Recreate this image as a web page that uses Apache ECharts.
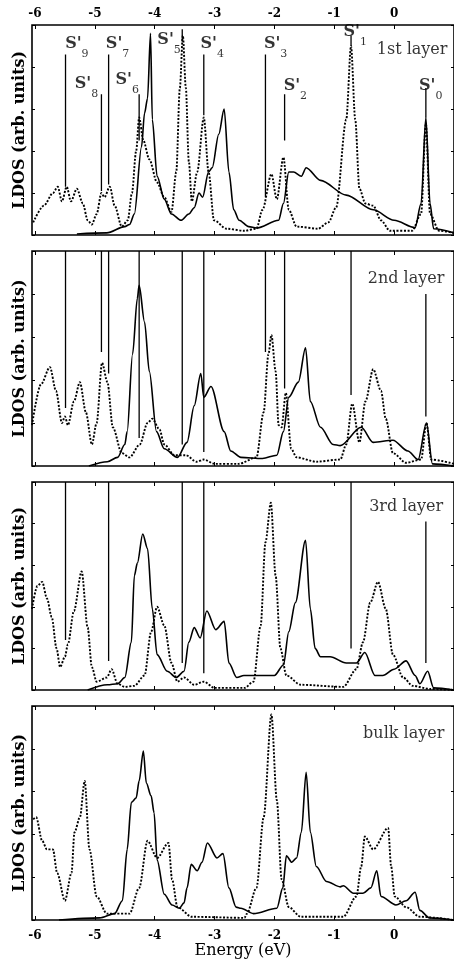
<!DOCTYPE html>
<html>
<head>
<meta charset="utf-8">
<script src="https://cdn.jsdelivr.net/npm/echarts@6/dist/echarts.min.js"></script>
<style>
  html, body { margin: 0; padding: 0; background: #fff; }
  #chart { width: 454px; height: 962px; }
</style>
</head>
<body>
<div id="chart"></div>
<script>
const ENERGY_TICKS = [-6, -5, -4, -3, -2, -1, 0]
const LAYERS = ['1st layer', '2nd layer', '3rd layer', 'bulk layer']

// surface states S'9 ... S'0 (eV)
const STATE_NAMES = ['9', '8', '7', '6', '5', '4', '3', '2', '1', '0']
const STATE_E = [-5.49, -4.89, -4.77, -4.26, -3.54, -3.18, -2.15, -1.83, -0.72, 0.53]
const STATE_LABEL_AT = [[-5.30, 0.89], [-5.14, 0.70], [-4.62, 0.89], [-4.46, 0.72], [-3.76, 0.91],
  [-3.04, 0.89], [-1.98, 0.89], [-1.65, 0.69], [-0.65, 0.95], [0.61, 0.69]]

// marker line extents [from, to] per layer, null = no line
const MARK_L1 = [[0.86, 0.23], [0.67, 0.21], [0.86, 0.24], [0.67, 0.45], [0.98, 0.92],
  [0.86, 0.57], [0.86, 0.18], [0.67, 0.45], [0.95, 0.9], [0.7, 0.56]]
const MARK_L2 = [[1, 0.27], [1, 0.53], [1, 0.43], [1, 0.13], [1, 0.1],
  [1, 0.065], [1, 0.53], [1, 0.36], [1, 0.33], [0.8, 0.23]]
const MARK_L3 = [[1, 0.24], null, [1, 0.14], null, [1, 0.13],
  [1, 0.08], null, null, [1, 0.2], [0.81, 0.13]]
const MARK_L4 = [null, null, null, null, null, null, null, null, null, null]

// LDOS curves [energy, value]; solid and dotted per layer
const L1_SOLID = [[-5.3, 0.005], [-4.8, 0.01], [-4.5, 0.04], [-4.42, 0.05], [-4.34, 0.1], [-4.22, 0.42],
  [-4.17, 0.58], [-4.12, 0.65], [-4.07, 0.96], [-4.04, 0.55], [-3.96, 0.28], [-3.84, 0.17],
  [-3.72, 0.1], [-3.56, 0.07], [-3.43, 0.1], [-3.34, 0.13], [-3.26, 0.2], [-3.2, 0.18],
  [-3.1, 0.3], [-3.04, 0.32], [-2.93, 0.48], [-2.84, 0.6], [-2.76, 0.3], [-2.68, 0.12],
  [-2.59, 0.07], [-2.43, 0.04], [-2.3, 0.033], [-1.93, 0.07], [-1.85, 0.15], [-1.76, 0.3],
  [-1.68, 0.3], [-1.55, 0.28], [-1.47, 0.32], [-1.23, 0.26], [-0.8, 0.19], [-0.35, 0.12],
  [0.0, 0.07], [0.35, 0.035], [0.45, 0.15], [0.53, 0.56], [0.6, 0.15], [0.66, 0.03], [1.0, 0.01]]
const L1_DOTTED = [[-6.03, 0.06], [-5.85, 0.14], [-5.7, 0.2], [-5.62, 0.23], [-5.55, 0.16],
  [-5.47, 0.23], [-5.4, 0.16], [-5.3, 0.22], [-5.2, 0.15], [-5.12, 0.07], [-5.05, 0.05],
  [-4.97, 0.1], [-4.89, 0.2], [-4.84, 0.18], [-4.75, 0.23], [-4.67, 0.14], [-4.55, 0.04],
  [-4.45, 0.07], [-4.38, 0.2], [-4.31, 0.4], [-4.26, 0.56], [-4.19, 0.45], [-4.09, 0.36],
  [-3.96, 0.25], [-3.84, 0.18], [-3.72, 0.11], [-3.64, 0.3], [-3.58, 0.7], [-3.53, 0.95],
  [-3.48, 0.7], [-3.43, 0.35], [-3.38, 0.16], [-3.29, 0.3], [-3.18, 0.56], [-3.1, 0.3],
  [-3.01, 0.07], [-2.8, 0.03], [-2.5, 0.02], [-2.3, 0.03], [-2.2, 0.12], [-2.05, 0.29],
  [-1.96, 0.17], [-1.85, 0.37], [-1.76, 0.12], [-1.63, 0.04], [-1.27, 0.03], [-1.1, 0.06],
  [-0.97, 0.13], [-0.8, 0.55], [-0.72, 0.9], [-0.65, 0.55], [-0.58, 0.22], [-0.48, 0.15],
  [-0.35, 0.14], [-0.22, 0.07], [-0.07, 0.02], [0.3, 0.02], [0.45, 0.1], [0.53, 0.53],
  [0.6, 0.1], [0.75, 0.02], [1.0, 0.01]]

const L2_SOLID = [[-5.1, 0.0], [-4.79, 0.02], [-4.62, 0.04], [-4.5, 0.1], [-4.46, 0.16], [-4.37, 0.52],
  [-4.29, 0.78], [-4.26, 0.84], [-4.17, 0.67], [-4.09, 0.44], [-3.97, 0.16], [-3.84, 0.08],
  [-3.62, 0.04], [-3.46, 0.11], [-3.34, 0.28], [-3.23, 0.43], [-3.18, 0.32], [-3.06, 0.37],
  [-2.84, 0.16], [-2.73, 0.07], [-2.56, 0.04], [-2.2, 0.035], [-1.96, 0.05], [-1.85, 0.16],
  [-1.76, 0.32], [-1.6, 0.39], [-1.48, 0.55], [-1.4, 0.3], [-1.23, 0.18], [-1.02, 0.1],
  [-0.9, 0.095], [-0.55, 0.18], [-0.35, 0.11], [-0.02, 0.12], [0.23, 0.07], [0.4, 0.03],
  [0.54, 0.2], [0.64, 0.01], [1.0, 0.0]]
const L2_DOTTED = [[-6.05, 0.19], [-5.9, 0.38], [-5.75, 0.46], [-5.65, 0.35], [-5.55, 0.2],
  [-5.5, 0.23], [-5.45, 0.19], [-5.35, 0.3], [-5.25, 0.39], [-5.15, 0.25], [-5.05, 0.1],
  [-4.97, 0.2], [-4.88, 0.48], [-4.79, 0.39], [-4.7, 0.18], [-4.55, 0.06], [-4.42, 0.04],
  [-4.25, 0.1], [-4.12, 0.2], [-4.04, 0.22], [-3.92, 0.17], [-3.84, 0.1], [-3.67, 0.05],
  [-3.48, 0.05], [-3.3, 0.02], [-3.18, 0.03], [-3.0, 0.01], [-2.6, 0.01], [-2.3, 0.04],
  [-2.18, 0.25], [-2.1, 0.52], [-2.05, 0.61], [-1.98, 0.44], [-1.93, 0.19], [-1.88, 0.18],
  [-1.81, 0.34], [-1.72, 0.08], [-1.63, 0.04], [-1.3, 0.02], [-0.9, 0.03], [-0.8, 0.1],
  [-0.7, 0.29], [-0.58, 0.11], [-0.48, 0.3], [-0.35, 0.45], [-0.22, 0.35], [-0.14, 0.22],
  [-0.02, 0.06], [0.2, 0.015], [0.45, 0.03], [0.54, 0.2], [0.62, 0.03], [1.0, 0.01]]

const L3_SOLID = [[-5.12, 0.0], [-4.79, 0.025], [-4.62, 0.03], [-4.5, 0.06], [-4.39, 0.23], [-4.34, 0.55],
  [-4.29, 0.61], [-4.2, 0.75], [-4.12, 0.68], [-4.04, 0.39], [-3.96, 0.17], [-3.79, 0.09],
  [-3.64, 0.06], [-3.51, 0.09], [-3.43, 0.23], [-3.34, 0.3], [-3.24, 0.25], [-3.13, 0.38],
  [-2.98, 0.29], [-2.84, 0.33], [-2.76, 0.13], [-2.63, 0.06], [-2.51, 0.07], [-2.0, 0.07],
  [-1.85, 0.12], [-1.76, 0.28], [-1.65, 0.42], [-1.48, 0.72], [-1.4, 0.39], [-1.32, 0.2],
  [-1.23, 0.16], [-1.07, 0.16], [-0.8, 0.13], [-0.63, 0.13], [-0.49, 0.18], [-0.32, 0.07],
  [-0.19, 0.07], [0.0, 0.1], [0.2, 0.14], [0.35, 0.07], [0.43, 0.03], [0.56, 0.09],
  [0.66, 0.01], [1.0, 0.0]]
const L3_DOTTED = [[-6.05, 0.39], [-5.96, 0.5], [-5.88, 0.52], [-5.8, 0.44], [-5.72, 0.35],
  [-5.64, 0.2], [-5.58, 0.11], [-5.5, 0.16], [-5.45, 0.22], [-5.35, 0.38], [-5.22, 0.57],
  [-5.12, 0.3], [-5.05, 0.11], [-4.97, 0.04], [-4.8, 0.06], [-4.72, 0.1], [-4.62, 0.03],
  [-4.5, 0.015], [-4.34, 0.02], [-4.17, 0.07], [-4.06, 0.28], [-3.96, 0.4], [-3.84, 0.31],
  [-3.72, 0.13], [-3.62, 0.04], [-3.51, 0.06], [-3.34, 0.025], [-3.18, 0.04], [-3.0, 0.01],
  [-2.5, 0.01], [-2.35, 0.04], [-2.23, 0.31], [-2.15, 0.71], [-2.06, 0.9], [-1.98, 0.55],
  [-1.9, 0.2], [-1.8, 0.07], [-1.56, 0.025], [-0.85, 0.015], [-0.63, 0.1], [-0.52, 0.23],
  [-0.4, 0.42], [-0.27, 0.52], [-0.14, 0.39], [-0.02, 0.17], [0.15, 0.06], [0.31, 0.02],
  [0.6, 0.005], [1.0, 0.0]]

const L4_SOLID = [[-5.6, 0.0], [-4.92, 0.01], [-4.67, 0.03], [-4.54, 0.09], [-4.46, 0.33], [-4.39, 0.55],
  [-4.31, 0.57], [-4.26, 0.65], [-4.19, 0.79], [-4.14, 0.64], [-4.06, 0.58], [-4.01, 0.5],
  [-3.96, 0.28], [-3.84, 0.12], [-3.71, 0.07], [-3.59, 0.055], [-3.51, 0.08], [-3.46, 0.15],
  [-3.39, 0.26], [-3.29, 0.23], [-3.21, 0.27], [-3.12, 0.36], [-2.96, 0.29], [-2.86, 0.31],
  [-2.76, 0.15], [-2.64, 0.06], [-2.56, 0.055], [-2.35, 0.03], [-1.96, 0.055], [-1.86, 0.15],
  [-1.8, 0.3], [-1.71, 0.27], [-1.63, 0.29], [-1.55, 0.41], [-1.47, 0.69], [-1.4, 0.41],
  [-1.3, 0.25], [-1.13, 0.18], [-0.9, 0.155], [-0.85, 0.16], [-0.68, 0.125], [-0.52, 0.125],
  [-0.39, 0.15], [-0.29, 0.23], [-0.22, 0.11], [0.03, 0.07], [0.2, 0.09], [0.35, 0.13],
  [0.43, 0.045], [0.59, 0.01], [1.0, 0.0]]
const L4_DOTTED = [[-6.03, 0.47], [-5.98, 0.48], [-5.88, 0.37], [-5.8, 0.33], [-5.7, 0.33],
  [-5.63, 0.22], [-5.5, 0.09], [-5.39, 0.22], [-5.34, 0.41], [-5.25, 0.48], [-5.17, 0.65],
  [-5.09, 0.33], [-4.97, 0.11], [-4.8, 0.03], [-4.42, 0.03], [-4.26, 0.15], [-4.12, 0.37],
  [-3.96, 0.29], [-3.77, 0.36], [-3.71, 0.19], [-3.62, 0.06], [-3.38, 0.015], [-2.5, 0.01],
  [-2.46, 0.03], [-2.3, 0.15], [-2.18, 0.48], [-2.05, 0.96], [-1.96, 0.56], [-1.88, 0.19],
  [-1.76, 0.06], [-1.56, 0.015], [-0.85, 0.015], [-0.63, 0.11], [-0.55, 0.25], [-0.49, 0.39],
  [-0.35, 0.33], [-0.1, 0.43], [-0.05, 0.25], [0.01, 0.11], [0.2, 0.06], [0.43, 0.015], [1.0, 0.0]]

const LAYER_POS = [[0.3, 0.88], [0.2, 0.87], [0.2, 0.88], [0.16, 0.87]]

const SOLIDS = [L1_SOLID, L2_SOLID, L3_SOLID, L4_SOLID]
const DOTTEDS = [L1_DOTTED, L2_DOTTED, L3_DOTTED, L4_DOTTED]
const MARKS = [MARK_L1, MARK_L2, MARK_L3, MARK_L4]

const FONT = 'DejaVu Serif'
const GRID_TOPS = [25, 251, 482, 706]
const GRID_HEIGHTS = [210, 215, 208, 214]

const chart = echarts.init(document.getElementById('chart'), null, { renderer: 'canvas' })

const grid = [], xAxis = [], yAxis = [], series = []

LAYERS.forEach((layer, i) => {
  grid.push({
    left: 32, right: -2, top: GRID_TOPS[i], height: GRID_HEIGHTS[i],
    show: true, borderColor: '#000', borderWidth: 1.6, backgroundColor: 'transparent',
  })
  const isLast = i === LAYERS.length - 1
  const tick = { show: true, inside: true, length: 4, customValues: ENERGY_TICKS, lineStyle: { color: '#000' } }
  xAxis.push({
    type: 'value', gridIndex: i, min: -6.05, max: 1.0, position: 'bottom',
    axisLine: { show: false, onZero: false },
    axisTick: tick,
    axisLabel: {
      show: isLast, customValues: ENERGY_TICKS, margin: 10,
      fontFamily: FONT, fontWeight: 'bold', fontSize: 12, color: '#000',
    },
    splitLine: { show: false },
    name: isLast ? 'Energy (eV)' : '', nameLocation: 'middle', nameGap: 23,
    nameTextStyle: { fontFamily: FONT, fontSize: 16, color: '#000' },
  })
  xAxis.push({
    type: 'value', gridIndex: i, min: -6.05, max: 1.0, position: 'top',
    axisLine: { show: false, onZero: false },
    axisTick: tick,
    axisLabel: {
      show: i === 0, customValues: ENERGY_TICKS, margin: 5,
      fontFamily: FONT, fontWeight: 'bold', fontSize: 12, color: '#000',
    },
    splitLine: { show: false },
  })
  yAxis.push({
    type: 'value', gridIndex: i, min: 0, max: 1, interval: 0.2, position: 'left',
    axisLine: { show: false, onZero: false },
    axisTick: { show: true, inside: true, length: 3, lineStyle: { color: '#000' } },
    axisLabel: { show: false },
    splitLine: { show: false },
    name: 'LDOS (arb. units)', nameLocation: 'middle', nameGap: 4,
    nameTextStyle: { fontFamily: FONT, fontWeight: 'bold', fontSize: 16, color: '#000' },
  })
  yAxis.push({
    type: 'value', gridIndex: i, min: 0, max: 1, interval: 0.2, position: 'right',
    axisLine: { show: false, onZero: false },
    axisTick: { show: true, inside: true, length: 3, lineStyle: { color: '#000' } },
    axisLabel: { show: false },
    splitLine: { show: false },
  })

  const ax = { xAxisIndex: 2 * i, yAxisIndex: 2 * i }

  series.push({
    type: 'line', ...ax, data: DOTTEDS[i], showSymbol: false, silent: true,
    smooth: 0.3, smoothMonotone: 'x',
    lineStyle: { color: '#000', width: 1.9, type: [2, 1.6] }, z: 3,
  })
  series.push({
    type: 'line', ...ax, data: SOLIDS[i], showSymbol: false, silent: true,
    smooth: 0.3, smoothMonotone: 'x',
    lineStyle: { color: '#000', width: 1.6 }, z: 4,
  })

  MARKS[i].forEach((m, k) => {
    if (!m) return
    series.push({
      type: 'line', ...ax, showSymbol: false, silent: true,
      data: [[STATE_E[k], m[0]], [STATE_E[k], m[1]]],
      lineStyle: { color: '#000', width: 1.3 }, z: 5,
    })
  })

  series.push({
    type: 'scatter', ...ax, symbolSize: 0, silent: true, z: 6,
    data: [LAYER_POS[i]],
    label: {
      show: true, position: 'inside', formatter: layer,
      fontFamily: FONT, fontSize: 16, color: '#000',
    },
  })
})

// S' state labels on the first layer
series.push({
  type: 'scatter', xAxisIndex: 0, yAxisIndex: 0, symbolSize: 0, silent: true, z: 6,
  data: STATE_LABEL_AT.map((p, k) => ({ value: p, name: STATE_NAMES[k] })),
  label: {
    show: true, position: 'inside',
    formatter: (p) => `{s|S'}{sub|${p.name}}`,
    rich: {
      s: { fontFamily: FONT, fontWeight: 'bold', fontSize: 16, color: '#000', lineHeight: 24, verticalAlign: 'top' },
      sub: { fontFamily: FONT, fontSize: 11, color: '#000', lineHeight: 24, verticalAlign: 'bottom' },
    },
  },
})

chart.setOption({
  backgroundColor: '#fff',
  animation: false,
  grid, xAxis, yAxis, series,
})
</script>
</body>
</html>
